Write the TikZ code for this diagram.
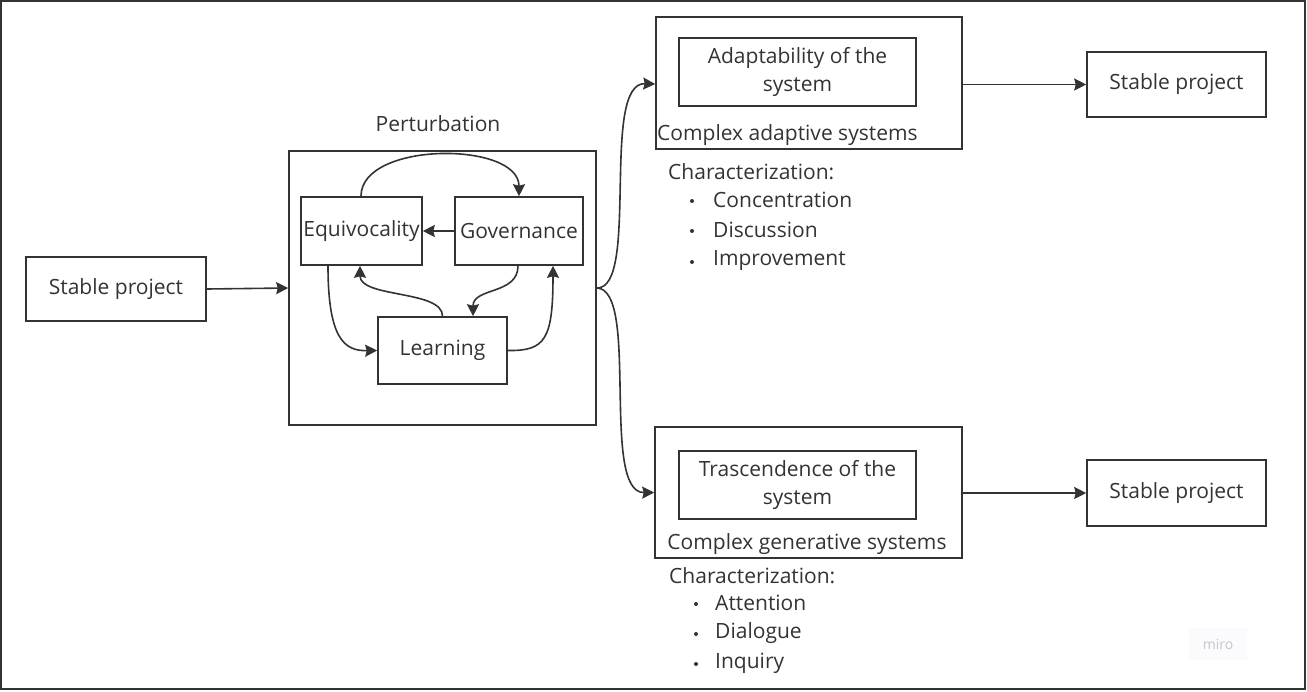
\documentclass[tikz,border=0pt]{standalone}
\usepackage{fontspec}
\setmainfont{Open Sans}
\usetikzlibrary{arrows.meta}
\definecolor{ink}{HTML}{333333}
\definecolor{wm}{HTML}{C4C4D2}
\definecolor{wmbg}{HTML}{FBFBFD}
\tikzset{
  x=1pt, y=-1pt,
  box/.style={draw=ink, line width=1.6pt, inner sep=0pt, align=center, text=ink,
              font=\fontsize{21}{27.5}\selectfont},
  lbl/.style={text=ink, inner sep=0pt, font=\fontsize{21}{27}\selectfont},
  dot/.style={circle, fill=ink, inner sep=0pt, minimum size=4pt},
  link/.style={draw=ink, line width=1.6pt, -{Stealth[length=12pt,width=12pt,inset=1.5pt]}},
}
\begin{document}
\begin{tikzpicture}
\useasboundingbox (0,0) rectangle (1307,691);
\draw[ink, line width=2pt] (1,1) rectangle (1305,689);

% left input
\node[box, minimum width=180pt, minimum height=64pt] (s0) at (116,289) {Stable project};

% perturbation block
\node[box, minimum width=307pt, minimum height=274pt] (pert) at (442.5,288) {};
\node[lbl] (pertlbl) at (438,124) {Perturbation};
\node[box, minimum width=121pt, minimum height=68pt] (eq) at (361.5,231) {Equivocality};
\node[box, minimum width=128pt, minimum height=68pt] (gov) at (519,231) {Governance};
\node[box, minimum width=129pt, minimum height=67pt] (learn) at (442.5,350.5) {Learning};

% adaptive branch
\node[box, minimum width=306pt, minimum height=132pt] (cas) at (809,83) {};
\node[box, minimum width=237pt, minimum height=68pt] (adapt) at (797.5,72) {Adaptability of the\\system};
\node[lbl, anchor=west] (caslbl) at (657,135) {Complex adaptive systems};
\node[lbl, anchor=west] (cchar) at (668,172) {Characterization:};
\node[dot] (cb1) at (692,201) {};
\node[lbl, anchor=west] (ci1) at (713,200) {Concentration};
\node[dot] (cb2) at (692,231) {};
\node[lbl, anchor=west] (ci2) at (713,230) {Discussion};
\node[dot] (cb3) at (692,262) {};
\node[lbl, anchor=west] (ci3) at (713,261) {Improvement};
\node[box, minimum width=179pt, minimum height=65pt] (s1) at (1176.5,84.5) {Stable project};

% generative branch
\node[box, minimum width=307pt, minimum height=131pt] (cgs) at (808.5,492.5) {};
\node[box, minimum width=237pt, minimum height=68pt] (trans) at (797.5,485) {Trascendence of the\\system};
\node[lbl] (cgslbl) at (807,544) {Complex generative systems};
\node[lbl, anchor=west] (gchar) at (669,576) {Characterization:};
\node[dot] (gb1) at (696,604) {};
\node[lbl, anchor=west] (gi1) at (715,603) {Attention};
\node[dot] (gb2) at (696,634) {};
\node[lbl, anchor=west] (gi2) at (715,633) {Dialogue};
\node[dot] (gb3) at (696,664) {};
\node[lbl, anchor=west] (gi3) at (715,663) {Inquiry};
\node[box, minimum width=179pt, minimum height=66pt] (s2) at (1176.5,493) {Stable project};

% watermark
\node[fill=wmbg, text=wm, minimum width=58pt, minimum height=32pt, inner sep=0pt,
      font=\fontsize{14}{16}\selectfont] (mark) at (1218,644) {miro};

% connectors
\draw[link] (s0.east) -- (pert.west);
\draw[link] ([xshift=-0.5pt]eq.north) .. controls (361,141) and (519,141) .. (gov.north);
\draw[link] (gov.west) -- (eq.east);
\draw[link] ([xshift=-1pt]gov.south) .. controls (518,295) and (473,287) .. ([xshift=30.5pt]learn.north);
\draw[link] (learn.north) .. controls (443,290) and (360,298) .. ([xshift=-1.5pt]eq.south);
\draw[link] ([xshift=-33.5pt]eq.south) .. controls (328,340) and (345,351) .. (learn.west);
\draw[link] (learn.east) .. controls (545,351) and (553,340) .. ([xshift=34pt]gov.south);
\draw[link] (pert.east) .. controls (640,289) and (600,82) .. ([yshift=-1pt]cas.west);
\draw[link] (pert.east) .. controls (640,289) and (600,493) .. (cgs.west);
\draw[link] (s1.west -| cas.east) -- (s1.west);
\draw[link] (s2.west -| cgs.east) -- (s2.west);
\end{tikzpicture}
\end{document}
